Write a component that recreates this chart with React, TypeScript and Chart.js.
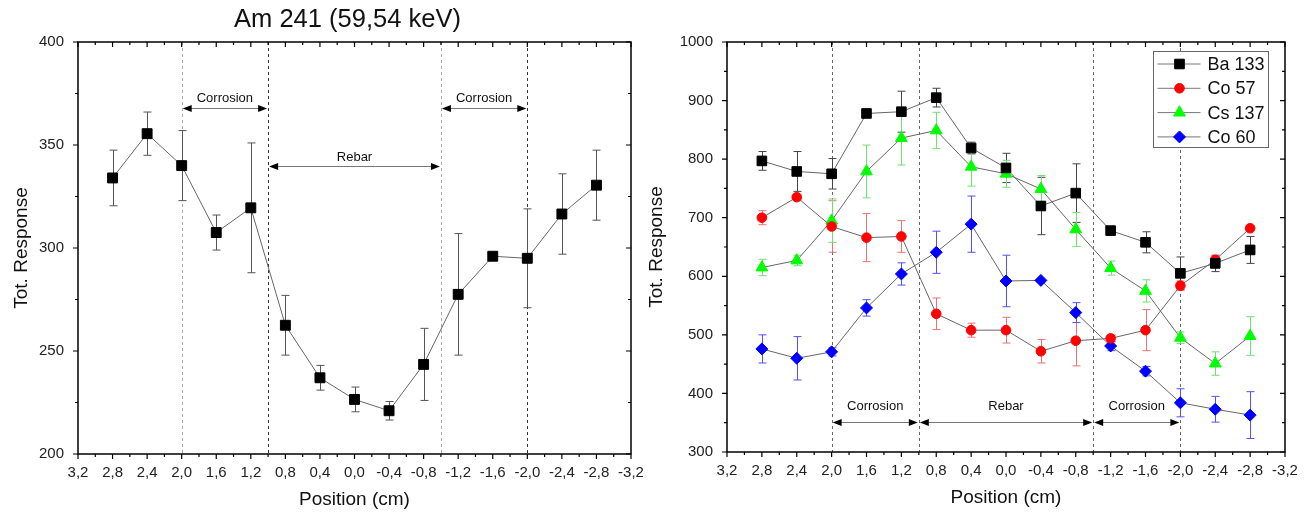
import React, { useEffect, useRef } from 'react';
import { Chart, registerables } from 'chart.js';
import { drawPoint } from 'chart.js/helpers';

Chart.register(...registerables);

// ---------- data ----------
const positions = [2.8, 2.4, 2.0, 1.6, 1.2, 0.8, 0.4, 0.0, -0.4, -0.8, -1.2, -1.6, -2.0, -2.4, -2.8];
const xTickValues = [3.2, 2.8, 2.4, 2.0, 1.6, 1.2, 0.8, 0.4, 0.0, -0.4, -0.8, -1.2, -1.6, -2.0, -2.4, -2.8, -3.2];
const xTickLabels = ['3,2', '2,8', '2,4', '2,0', '1,6', '1,2', '0,8', '0,4', '0,0', '-0,4', '-0,8', '-1,2', '-1,6', '-2,0', '-2,4', '-2,8', '-3,2'];
const leftYTicks = [200, 250, 300, 350, 400];
const rightYTicks = [300, 400, 500, 600, 700, 800, 900, 1000];

const am241Values = [334, 355.5, 340, 307.5, 319.5, 262.5, 237, 226.5, 221, 243.5, 277.5, 296, 295, 316.5, 330.5];
const am241Errors = [13.5, 10.5, 17, 8.5, 31.5, 14.5, 6, 6, 4.5, 17.5, 29.5, 0, 24, 19.5, 17];

const ba133Values = [797, 779, 775, 878, 881, 905, 819, 785, 720, 742, 678, 658, 605, 622, 645];
const ba133Errors = [16, 34, 26, 0, 35, 16, 10, 25, 49, 50, 0, 18, 28, 14, 23];
const co57Values = [700, 735, 685, 666, 668, 536, 508, 508, 472, 490, 494, 508, 584, 628, 682];
const co57Errors = [12, 5, 44, 41, 27, 27, 12, 22, 20, 43, 6, 35, 8, 6, 0];
const cs137Values = [615, 627, 695, 779, 836, 849, 787, 775, 749, 680, 614, 575, 495, 451, 498];
const cs137Errors = [14, 9, 37, 45, 46, 31, 33, 23, 23, 29, 12, 19, 10, 20, 33];
const co60Values = [476, 460, 471, 546, 604, 641, 689, 592, 593, 538, 481, 438, 384, 373, 363];
const co60Errors = [24, 37, 7, 14, 19, 36, 48, 44, 0, 17, 8, 8, 24, 22, 40];

const seriesNames = ['Ba 133', 'Co 57', 'Cs 137', 'Co 60'];

const boundaryPositions = [2.0, 1.0, -1.0, -2.0];
const regionLabels = ['Corrosion', 'Rebar', 'Corrosion'];
const regionFrom = [2.0, 1.0, -1.0];
const regionTo = [1.0, -1.0, -2.0];
const leftArrowLevels = [368, 340, 368];
const leftLabelLevels = [372.5, 344, 372.5];
const rightArrowLevels = [351, 351, 351];
const rightLabelLevels = [377, 377, 377];

const FONT = '"Liberation Sans", Arial, Helvetica, sans-serif';

// ---------- plugin ----------
const decoPlugin = {
  id: 'deco',
  beforeDatasetsDraw(chart: any, _args: any, opts: any) {
    const { ctx, chartArea: ca } = chart;
    const x = chart.scales.x;
    const y = chart.scales.y;
    ctx.save();
    // dashed boundaries
    boundaryPositions.forEach((p, i) => {
      const px = Math.round(x.getPixelForValue(p)) + 0.5;
      ctx.strokeStyle = opts.boundaryColors[i];
      ctx.lineWidth = 1;
      ctx.setLineDash([3, 3]);
      ctx.beginPath();
      ctx.moveTo(px, ca.top);
      ctx.lineTo(px, ca.bottom);
      ctx.stroke();
    });
    ctx.setLineDash([]);
    // region arrows
    regionFrom.forEach((f, i) => {
      const x1 = x.getPixelForValue(f) + 1;
      const x2 = x.getPixelForValue(regionTo[i]) - 1;
      const yy = Math.round(y.getPixelForValue(opts.arrowLevels[i])) + 0.5;
      ctx.strokeStyle = '#777';
      ctx.lineWidth = 1;
      ctx.beginPath();
      ctx.moveTo(x1 + 4, yy);
      ctx.lineTo(x2 - 4, yy);
      ctx.stroke();
      ctx.fillStyle = '#000';
      ctx.beginPath();
      ctx.moveTo(x1, yy);
      ctx.lineTo(x1 + 9, yy - 3.5);
      ctx.lineTo(x1 + 9, yy + 3.5);
      ctx.closePath();
      ctx.fill();
      ctx.beginPath();
      ctx.moveTo(x2, yy);
      ctx.lineTo(x2 - 9, yy - 3.5);
      ctx.lineTo(x2 - 9, yy + 3.5);
      ctx.closePath();
      ctx.fill();
      ctx.font = `13px ${FONT}`;
      ctx.textAlign = 'center';
      ctx.textBaseline = 'middle';
      ctx.fillStyle = '#111';
      ctx.fillText(regionLabels[i], (x1 + x2) / 2, y.getPixelForValue(opts.labelLevels[i]));
    });
    // error bars
    chart.data.datasets.forEach((ds: any, di: number) => {
      const errs = opts.errors[di];
      ctx.strokeStyle = opts.errColors[di];
      ctx.lineWidth = 1;
      ds.data.forEach((pt: any, k: number) => {
        const e = errs[k];
        if (!e) return;
        const px = Math.round(x.getPixelForValue(pt.x)) + 0.5;
        const yt = y.getPixelForValue(pt.y + e);
        const yb = y.getPixelForValue(pt.y - e);
        ctx.beginPath();
        ctx.moveTo(px, yt);
        ctx.lineTo(px, yb);
        ctx.moveTo(px - 4, yt);
        ctx.lineTo(px + 4, yt);
        ctx.moveTo(px - 4, yb);
        ctx.lineTo(px + 4, yb);
        ctx.stroke();
      });
    });
    ctx.restore();
  },
  afterDraw(chart: any, _args: any, opts: any) {
    const { ctx, chartArea: ca } = chart;
    const x = chart.scales.x;
    const y = chart.scales.y;
    ctx.save();
    ctx.strokeStyle = '#000';
    ctx.lineWidth = 1.5;
    ctx.strokeRect(ca.left, ca.top, ca.right - ca.left, ca.bottom - ca.top);
    ctx.lineWidth = 1.2;
    // x ticks
    for (let i = 0; i < xTickValues.length; i++) {
      const px = x.getPixelForValue(xTickValues[i]);
      ctx.beginPath();
      ctx.moveTo(px, ca.bottom);
      ctx.lineTo(px, ca.bottom + 5);
      ctx.moveTo(px, ca.top);
      ctx.lineTo(px, ca.top + 5);
      ctx.stroke();
      if (i < xTickValues.length - 1) {
        const pm = x.getPixelForValue((xTickValues[i] + xTickValues[i + 1]) / 2);
        ctx.beginPath();
        ctx.moveTo(pm, ca.bottom);
        ctx.lineTo(pm, ca.bottom + 3);
        ctx.moveTo(pm, ca.top);
        ctx.lineTo(pm, ca.top + 3);
        ctx.stroke();
      }
    }
    const yt: number[] = opts.yTicks;
    for (let i = 0; i < yt.length; i++) {
      const py = y.getPixelForValue(yt[i]);
      ctx.beginPath();
      ctx.moveTo(ca.left, py);
      ctx.lineTo(ca.left - 5, py);
      ctx.moveTo(ca.right, py);
      ctx.lineTo(ca.right - 5, py);
      ctx.stroke();
      if (i < yt.length - 1) {
        const pm = y.getPixelForValue((yt[i] + yt[i + 1]) / 2);
        ctx.beginPath();
        ctx.moveTo(ca.left, pm);
        ctx.lineTo(ca.left - 3, pm);
        ctx.moveTo(ca.right, pm);
        ctx.lineTo(ca.right - 3, pm);
        ctx.stroke();
      }
    }
    // axis titles
    ctx.fillStyle = '#111';
    ctx.font = `19px ${FONT}`;
    ctx.textAlign = 'center';
    ctx.textBaseline = 'middle';
    ctx.fillText('Position (cm)', (ca.left + ca.right) / 2, ca.bottom + 46);
    ctx.save();
    ctx.translate(ca.left - opts.yTitleOffset, (ca.top + ca.bottom) / 2);
    ctx.rotate(-Math.PI / 2);
    ctx.fillText('Tot. Response', 0, 0);
    ctx.restore();
    if (opts.title) {
      ctx.font = `25.5px ${FONT}`;
      ctx.fillText(opts.title, (ca.left + ca.right) / 2 - 7, 20);
    }
    // legend
    if (opts.legend) {
      const bw = 115, bh = 96;
      const bx = Math.round(ca.right - 17 - bw) + 0.5;
      const by = Math.round(ca.top + 9) + 0.5;
      ctx.fillStyle = '#fff';
      ctx.fillRect(bx, by, bw, bh);
      ctx.strokeStyle = '#666';
      ctx.lineWidth = 1;
      ctx.strokeRect(bx, by, bw, bh);
      chart.data.datasets.forEach((ds: any, i: number) => {
        const ry = by + 12.5 + i * 24.3;
        ctx.strokeStyle = '#777';
        ctx.lineWidth = 1;
        ctx.beginPath();
        ctx.moveTo(bx + 4, ry);
        ctx.lineTo(bx + 47, ry);
        ctx.stroke();
        ctx.fillStyle = ds.pointBackgroundColor;
        ctx.strokeStyle = ds.pointBorderColor;
        drawPoint(ctx, { pointStyle: ds.pointStyle, radius: ds.pointRadius, rotation: 0, borderWidth: 1 }, bx + 26, ry);
        ctx.fillStyle = '#111';
        ctx.font = `18px ${FONT}`;
        ctx.textAlign = 'left';
        ctx.textBaseline = 'middle';
        ctx.fillText(seriesNames[i], bx + 54, ry + 1);
      });
    }
    ctx.restore();
  },
};

function makeDataset(label: string, values: number[], color: string, style: string, radius: number) {
  return {
    label,
    data: positions.map((p, i) => ({ x: p, y: values[i] })),
    borderColor: '#666',
    borderWidth: 1,
    pointBackgroundColor: color,
    pointBorderColor: color,
    pointBorderWidth: 1,
    pointStyle: style,
    pointRadius: radius,
    pointHoverRadius: radius,
    fill: false,
    tension: 0,
  };
}

function makeOptions(opts: {
  yMin: number; yMax: number; yStep: number; yWidth: number; xHeight: number;
  padRight: number; deco: any;
}) {
  return {
    responsive: false,
    animation: false as const,
    events: [],
    layout: { padding: { left: 0, right: opts.padRight, top: 42, bottom: 0 } },
    plugins: { legend: { display: false }, title: { display: false }, tooltip: { enabled: false }, deco: opts.deco },
    scales: {
      x: {
        type: 'linear' as const,
        min: -3.2,
        max: 3.2,
        reverse: true,
        grid: { display: false, drawTicks: false },
        border: { display: false },
        afterBuildTicks: (scale: any) => {
          scale.ticks = xTickValues.map((v) => ({ value: v }));
        },
        afterFit: (scale: any) => {
          scale.height = opts.xHeight;
          scale.paddingLeft = 0;
          scale.paddingRight = 0;
        },
        ticks: {
          autoSkip: false,
          maxRotation: 0,
          padding: 10,
          color: '#222',
          font: { family: FONT, size: 15 },
          callback: (_v: any, i: number) => xTickLabels[i],
        },
      },
      y: {
        type: 'linear' as const,
        min: opts.yMin,
        max: opts.yMax,
        grid: { display: false, drawTicks: false },
        border: { display: false },
        afterFit: (scale: any) => {
          scale.width = opts.yWidth;
          scale.paddingTop = 0;
          scale.paddingBottom = 0;
        },
        ticks: {
          stepSize: opts.yStep,
          padding: 14,
          color: '#222',
          font: { family: FONT, size: 15 },
          callback: (v: any) => String(v),
        },
      },
    },
  };
}

const LEFT_W = 662;
const RIGHT_X = 630;
const RIGHT_W = 1312 - RIGHT_X;

function LeftChart() {
  const ref = useRef<HTMLCanvasElement>(null);
  useEffect(() => {
    const chart = new Chart(ref.current as HTMLCanvasElement, {
      type: 'line',
      data: { datasets: [makeDataset('Am 241', am241Values, '#000', 'rect', 7)] as any },
      options: makeOptions({
        yMin: 200, yMax: 400, yStep: 50, yWidth: 78, xHeight: 63, padRight: LEFT_W - 631,
        deco: {
          title: 'Am 241 (59,54 keV)',
          errors: [am241Errors],
          errColors: ['#555'],
          boundaryColors: ['#aaa', '#333', '#aaa', '#333'],
          arrowLevels: leftArrowLevels,
          labelLevels: leftLabelLevels,
          yTicks: leftYTicks,
          yTitleOffset: 56,
          legend: false,
        },
      }) as any,
      plugins: [decoPlugin],
    });
    return () => chart.destroy();
  }, []);
  return (
    <canvas
      ref={ref}
      width={LEFT_W}
      height={517}
      style={{ position: 'absolute', left: 0, top: 0, display: 'block', width: LEFT_W, height: 517 }}
    />
  );
}

function RightChart() {
  const ref = useRef<HTMLCanvasElement>(null);
  useEffect(() => {
    const chart = new Chart(ref.current as HTMLCanvasElement, {
      type: 'line',
      data: {
        datasets: [
          makeDataset(seriesNames[0], ba133Values, '#000000', 'rect', 6.8),
          makeDataset(seriesNames[1], co57Values, '#ff0000', 'circle', 4.8),
          makeDataset(seriesNames[2], cs137Values, '#00ff00', 'triangle', 6.8),
          makeDataset(seriesNames[3], co60Values, '#0000ff', 'rectRot', 6),
        ] as any,
      },
      options: makeOptions({
        yMin: 300, yMax: 1000, yStep: 100, yWidth: 727 - RIGHT_X, xHeight: 65, padRight: 1312 - 1285,
        deco: {
          title: '',
          errors: [ba133Errors, co57Errors, cs137Errors, co60Errors],
          errColors: ['#444', '#f07070', '#70e070', '#5050ff'],
          boundaryColors: ['#666', '#666', '#666', '#666'],
          arrowLevels: rightArrowLevels,
          labelLevels: rightLabelLevels,
          yTicks: rightYTicks,
          yTitleOffset: 70,
          legend: true,
        },
      }) as any,
      plugins: [decoPlugin],
    });
    return () => chart.destroy();
  }, []);
  return (
    <canvas
      ref={ref}
      width={RIGHT_W}
      height={517}
      style={{ position: 'absolute', left: RIGHT_X, top: 0, display: 'block', width: RIGHT_W, height: 517 }}
    />
  );
}

export default function App() {
  return (
    <div style={{ position: 'fixed', left: 0, top: 0, width: 1312, height: 517, background: '#fff' }}>
      <LeftChart />
      <RightChart />
    </div>
  );
}
